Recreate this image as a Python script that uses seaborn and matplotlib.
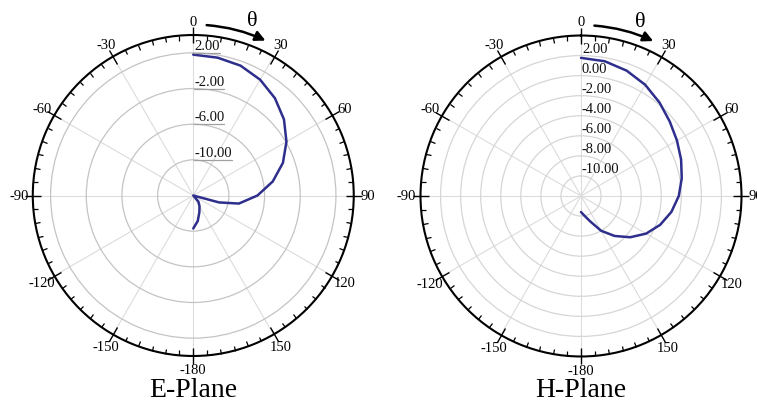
"""Measured E-plane and H-plane radiation patterns drawn as two polar charts."""

import matplotlib

matplotlib.use("Agg")

import matplotlib.pyplot as plt
import numpy as np
import seaborn as sns


# Angles in degrees (clockwise from the top) and gain in dB.
E_THETA = [0, 10, 20, 30, 40, 50, 60, 70, 80, 90, 100, 105, 110, 120, 130, 140, 150, 160, 170, 180]
E_GAIN = [1.8, 1.7, 1.5, 1.0, 0.25, -0.72, -1.93, -3.3, -4.95, -6.8, -8.8, -11.0, -14.0,
          -14.0, -14.0, -13.1, -12.6, -12.0, -11.1, -10.3]

H_THETA = [0, 10, 20, 30, 40, 50, 60, 70, 80, 90, 100, 110, 120, 130, 140, 150, 160, 170, 180]
H_GAIN = [1.77, 1.64, 1.3, 0.8, 0.17, -0.45, -0.95, -1.38, -1.8, -2.25, -2.85, -3.6, -4.5,
          -5.6, -6.8, -8.0, -9.3, -10.0, -10.4]

THETA_TICKS = [0, 30, 60, 90, 120, 150, 180, 210, 240, 270, 300, 330]
THETA_LABELS = ["0", "30", "60", "90", "120", "150", "-180", "-150", "-120", "-90", "-60", "-30"]

E_RINGS = [2, -2, -6, -10]
H_RINGS = [2, 0, -2, -4, -6, -8, -10]
E_RANGE = (-14, 4)
H_RANGE = (-12, 4)

LINE_COLOR = "#2e2e8c"
FONT = ["Liberation Serif", "DejaVu Serif"]


def draw_panel(fig, rect, theta, gain, rings, r_range, title, ring_color, underline):
    ax = fig.add_axes(rect, projection="polar")
    ax.set_theta_zero_location("N")
    ax.set_theta_direction(-1)
    ax.set_rlim(*r_range)
    ax.set_facecolor("white")

    # pattern curve
    sns.lineplot(x=np.deg2rad(theta), y=gain, ax=ax, color=LINE_COLOR, lw=1.8, sort=False)

    # grid rings and spokes
    ax.set_rgrids(rings, labels=[""] * len(rings))
    ax.yaxis.grid(True, color=ring_color, lw=0.9)
    ax.set_xticks(np.deg2rad(THETA_TICKS))
    ax.set_xticklabels(THETA_LABELS, fontsize=10.5, family=FONT, color="black")
    ax.set_xticks(np.deg2rad(np.arange(0, 360, 5)), minor=True)
    ax.xaxis.grid(True, which="major", color="#dcdcdc", lw=0.8)
    ax.tick_params(axis="x", which="both", bottom=False, top=True)
    ax.tick_params(axis="x", which="major", direction="inout", length=6, width=1.0,
                   pad=0, colors="black")
    ax.tick_params(axis="x", which="minor", direction="in", length=3.5, width=0.9,
                   colors="black")
    ax.spines["polar"].set_color("black")
    ax.spines["polar"].set_linewidth(1.5)

    # ring labels along the 0 degree spoke
    lo, hi = r_range
    labels = []
    for ring in rings:
        y = 0.5 + 0.5 * (ring - lo) / (hi - lo)
        txt = ax.text(0.503, y + 0.003, f"{ring:.2f}", transform=ax.transAxes, ha="left",
                      va="bottom", fontsize=10.5, family=FONT, color="#111111")
        labels.append((txt, y))
    if underline:
        fig.canvas.draw()
        inv = ax.transAxes.inverted()
        for txt, y in labels:
            box = txt.get_window_extent()
            x0, _ = inv.transform((box.x0, box.y0))
            x1, _ = inv.transform((box.x1, box.y0))
            ax.plot([x0, x1], [y, y], transform=ax.transAxes, color="#a0a0a0", lw=0.9,
                    clip_on=False)

    # theta direction arrow
    def rim(angle, frac):
        a = np.deg2rad(angle)
        return (0.5 + 0.5 * frac * np.sin(a), 0.5 + 0.5 * frac * np.cos(a))

    ax.annotate("", xy=rim(25, 1.065), xytext=rim(4.5, 1.065), xycoords="axes fraction",
                textcoords="axes fraction",
                arrowprops=dict(arrowstyle="-|>", color="black", lw=1.8, mutation_scale=15,
                                shrinkA=0, shrinkB=0, connectionstyle="arc3,rad=-0.09"),
                annotation_clip=False)
    tx, ty = rim(18.7, 1.15)
    ax.text(tx, ty, "θ", transform=ax.transAxes, ha="center", va="center", fontsize=16,
            family=FONT, color="black")

    fig.text(rect[0] + rect[2] / 2, 0.037, title, ha="center", va="center", fontsize=20,
             family=FONT, color="black")
    ax.set_xlabel("")
    ax.set_ylabel("")
    return ax


def main():
    sns.set_theme(style="white")
    plt.rcParams["font.family"] = FONT
    fig = plt.figure(figsize=(7.57, 4.06), dpi=100)
    fig.patch.set_facecolor("white")

    draw_panel(fig, [0.0433, 0.1207, 0.424, 0.7906], E_THETA, E_GAIN, E_RINGS, E_RANGE,
               "E-Plane", "#c4c4c4", True)
    draw_panel(fig, [0.5555, 0.1195, 0.424, 0.7906], H_THETA, H_GAIN, H_RINGS, H_RANGE,
               "H-Plane", "#d6d6d6", False)

    fig.savefig("out.png", dpi=100, facecolor="white")
    plt.close(fig)


if __name__ == "__main__":
    main()
